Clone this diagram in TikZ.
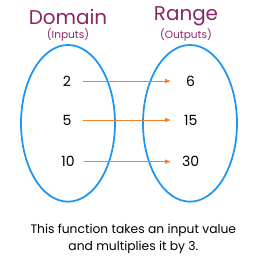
\documentclass[tikz,border=0pt]{standalone}
\usepackage{fontspec}
\setmainfont{Poppins}
\usetikzlibrary{positioning, arrows.meta}
\definecolor{clrPurple}{HTML}{8C2468}
\definecolor{clrBlue}  {HTML}{1E96F0}
\definecolor{clrOrange}{HTML}{F47F2A}
\begin{document}
\begin{tikzpicture}[
  setring/.style={draw=clrBlue, line width=1.5pt},
  head/.style={font=\fontsize{17}{20}\selectfont, text=clrPurple},
  sub/.style={font=\fontsize{9}{11}\selectfont, text=clrPurple},
  innum/.style={font=\fontsize{12}{14}\selectfont, inner sep=0pt,
                minimum width=0.94cm},
  outnum/.style={font=\fontsize{12}{14}\selectfont, inner sep=0pt,
                 minimum width=1.2cm},
  arr/.style={-{Triangle[length=4.5pt, width=3.5pt]}, line width=0.7pt,
              clrOrange},
  note/.style={font=\fontsize{10.5}{14.5}\selectfont, align=center},
]
\useasboundingbox (0,0) rectangle (7.86,-7.8);
% the two sets
\draw[setring] (2.04,-3.70) ellipse [x radius=1.41, y radius=2.35];
\draw[setring] (5.70,-3.70) ellipse [x radius=1.41, y radius=2.35];
\node[head] (dom) at (2.04,-0.50) {Domain};
\node[sub] (inp) at (2.04,-1.05) {(Inputs)};
\node[head] (rng) at (5.58,-0.50) {Range};
\node[sub] (outp) at (5.58,-1.05) {(Outputs)};
% values
\node[innum] (i2) at (2.01,-2.43) {2};
\node[innum] (i5) at (2.01,-3.60) {5};
\node[innum] (i10) at (2.04,-4.85) {10};
\node[outnum] (o6) at (5.72,-2.43) {6};
\node[outnum] (o15) at (5.72,-3.60) {15};
\node[outnum] (o30) at (5.72,-4.85) {30};
\draw[arr] (i2)--(o6);
\draw[arr] (i5)--(o15);
\draw[arr] (i10)--(o30);
\node[note] (cap) at (4.0,-7.17)
  {This function takes an input value\\and multiplies it by 3.};
\end{tikzpicture}
\end{document}
